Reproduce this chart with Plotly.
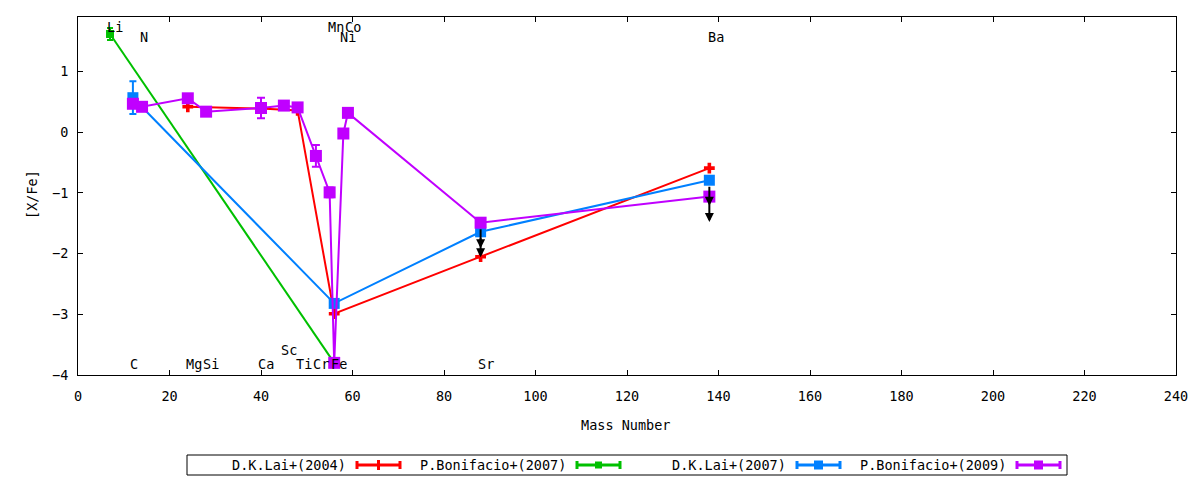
import plotly.graph_objects as go

# abundance pattern [X/Fe] against mass number

lai04_mass = [24, 40, 48, 56, 88, 138]
lai04_val = [0.42, 0.39, 0.36, -2.99, -2.05, -0.59]

bon07_mass = [7, 56]
bon07_val = [1.62, -3.80]
bon07_err = [0.10, 0.0]

lai07_mass = [12, 56, 88, 138]
lai07_val = [0.57, -2.82, -1.64, -0.79]
lai07_err = [0.27, 0.0, 0.0, 0.0]
lai07_upper = [False, False, True, True]

bon09_mass = [12, 14, 24, 28, 40, 45, 48, 52, 55, 56, 58, 59, 88, 138]
bon09_val = [0.47, 0.42, 0.56, 0.34, 0.40, 0.44, 0.41, -0.39, -0.99, -3.80, -0.02, 0.32, -1.49, -1.06]
bon09_err = [0, 0, 0, 0, 0.17, 0, 0, 0.18, 0.08, 0, 0, 0, 0, 0]
bon09_upper = [False] * 12 + [True, True]

# element names written on the plot
label_text = ["Li", "N", "Mn", "Co", "Ni", "Ba", "C", "Mg", "Si", "Ca", "Sc", "Ti", "Cr", "Fe", "Sr"]
label_x = [8.1, 14.4, 56.3, 60.2, 59.1, 139.4, 12.3, 25.3, 29.0, 41.2, 46.2, 49.4, 53.1, 57.0, 89.2]
label_y = [1.73, 1.57, 1.73, 1.73, 1.57, 1.57, -3.82, -3.82, -3.82, -3.82, -3.59, -3.82, -3.82, -3.82, -3.82]

legend_names = ["D.K.Lai+(2004)", "P.Bonifacio+(2007)", "D.K.Lai+(2007)", "P.Bonifacio+(2009)"]

RED = "#ff0000"
GREEN = "#00c000"
BLUE = "#0080ff"
PURPLE = "#c000ff"
FONT = "DejaVu Sans Mono"
FS = 13.5

# plot area in pixels (for placing the hand-made legend)
L, R, T, B = 78, 1176, 17, 375


def px(x):
    return (x - L) / (R - L)


def py(y):
    return (B - y) / (B - T)


fig = go.Figure()

fig.add_trace(go.Scatter(
    x=lai04_mass, y=lai04_val, mode="lines+markers", name=legend_names[0],
    line=dict(color=RED, width=2),
    marker=dict(symbol="cross", size=9, color=RED)))

fig.add_trace(go.Scatter(
    x=bon07_mass, y=bon07_val, mode="lines+markers", name=legend_names[1],
    line=dict(color=GREEN, width=2),
    marker=dict(symbol="square", size=8, color=GREEN),
    error_y=dict(type="data", array=bon07_err, color=GREEN, thickness=2, width=3)))

fig.add_trace(go.Scatter(
    x=lai07_mass, y=lai07_val, mode="lines+markers", name=legend_names[2],
    line=dict(color=BLUE, width=2),
    marker=dict(symbol="square", size=11, color=BLUE),
    error_y=dict(type="data", array=lai07_err, color=BLUE, thickness=2, width=3.5)))

fig.add_trace(go.Scatter(
    x=bon09_mass, y=bon09_val, mode="lines+markers", name=legend_names[3],
    line=dict(color=PURPLE, width=2),
    marker=dict(symbol="square", size=12, color=PURPLE),
    error_y=dict(type="data", array=bon09_err, color=PURPLE, thickness=2, width=4)))

annotations = []

# upper limits -> downward arrows
arrow_len = 0.42
for masses, vals, flags in [(lai07_mass, lai07_val, lai07_upper), (bon09_mass, bon09_val, bon09_upper)]:
    for m, v, f in zip(masses, vals, flags):
        if f:
            annotations.append(dict(
                x=m, y=v - arrow_len, ax=m, ay=v, xref="x", yref="y", axref="x", ayref="y",
                text="", showarrow=True, arrowhead=2, arrowsize=0.9, arrowwidth=2,
                arrowcolor="black", startstandoff=5))

for t, x, y in zip(label_text, label_x, label_y):
    annotations.append(dict(x=x, y=y, xref="x", yref="y", text=t, showarrow=False,
                            font=dict(family=FONT, size=FS, color="black"),
                            xanchor="center", yanchor="middle"))

annotations.append(dict(x=px(625), y=py(425), xref="paper", yref="paper", text="Mass Number",
                        showarrow=False, xanchor="center", yanchor="middle",
                        font=dict(family=FONT, size=FS, color="black")))
annotations.append(dict(x=px(32), y=py(195), xref="paper", yref="paper", text="[X/Fe]",
                        showarrow=False, textangle=-90, xanchor="center", yanchor="middle",
                        font=dict(family=FONT, size=FS, color="black")))

# legend, drawn gnuplot style: text on the left, sample on the right
shapes = [dict(type="rect", xref="paper", yref="paper", x0=px(187), x1=px(1067),
               y0=py(455), y1=py(475), line=dict(color="black", width=1))]
colors = [RED, GREEN, BLUE, PURPLE]
msize = [0, 7, 9, 9]
for i, name in enumerate(legend_names):
    start = 187 + 220 * i
    s0, s1 = start + 170, start + 213
    sm = (s0 + s1) / 2
    yc = 465
    c = colors[i]
    annotations.append(dict(x=px(start + 161), y=py(yc), xref="paper", yref="paper", text=name,
                            showarrow=False, xanchor="right", yanchor="middle",
                            font=dict(family=FONT, size=FS, color="black")))
    shapes.append(dict(type="line", xref="paper", yref="paper", x0=px(s0), x1=px(s1),
                       y0=py(yc), y1=py(yc), line=dict(color=c, width=3)))
    for xe in (s0, s1):
        shapes.append(dict(type="line", xref="paper", yref="paper", x0=px(xe), x1=px(xe),
                           y0=py(yc - 4), y1=py(yc + 4), line=dict(color=c, width=3)))
    if i == 0:
        shapes.append(dict(type="line", xref="paper", yref="paper", x0=px(sm), x1=px(sm),
                           y0=py(yc - 5), y1=py(yc + 5), line=dict(color=c, width=3)))
    else:
        h = msize[i] / 2
        shapes.append(dict(type="rect", xref="paper", yref="paper", x0=px(sm - h), x1=px(sm + h),
                           y0=py(yc - h), y1=py(yc + h), fillcolor=c, line=dict(width=0)))

axis_style = dict(showgrid=False, zeroline=False, showline=True, linecolor="black", linewidth=1,
                  mirror="allticks", ticks="inside", ticklen=5, tickcolor="black",
                  tickfont=dict(family=FONT, size=FS, color="black"))

fig.update_layout(
    width=1200, height=480,
    margin=dict(l=L, r=1200 - R, t=T, b=480 - B),
    plot_bgcolor="white", paper_bgcolor="white",
    showlegend=False,
    xaxis=dict(range=[0, 240], dtick=20, tick0=0, ticklabelstandoff=9, **axis_style),
    yaxis=dict(range=[-4, 1.9], dtick=1, tick0=-4, ticklabelstandoff=6, **axis_style),
    annotations=annotations,
    shapes=shapes,
)

# page body has a default 8px margin; drop it so the figure sits at the corner
fig.write_html("out.html", config={"displayModeBar": False},
               post_script="document.body.style.margin='0';")
